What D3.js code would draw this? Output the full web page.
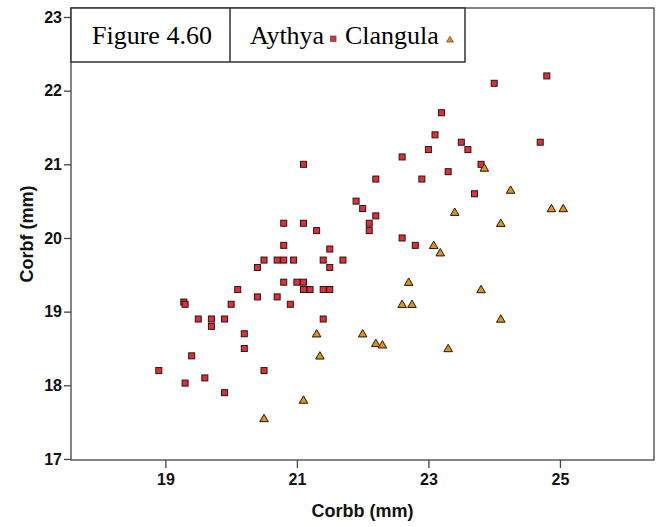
<!DOCTYPE html>
<html>
<head>
<meta charset="utf-8">
<script src="https://cdn.jsdelivr.net/npm/d3@7"></script>
<style>
  html, body { margin: 0; padding: 0; background: #fff; }
  svg { display: block; }
</style>
</head>
<body>
<svg id="chart" width="662" height="527"></svg>
<script>
// ---- data ----
const aythyaCorbb = [21.1, 20.8, 21.1, 21.3, 20.8, 21.5, 20.5, 20.7, 20.8, 20.95, 21.4, 21.7, 20.4, 21.5,
  20.8, 21.0, 21.1, 21.1, 21.2, 21.4, 21.5, 20.1, 20.4, 20.7, 19.28, 19.3, 20.0, 20.9, 19.5, 19.7, 19.9,
  19.7, 21.4, 20.2, 20.2, 19.4, 18.9, 20.5, 19.3, 19.6, 19.9,
  24.0, 24.8, 23.2, 23.1, 23.5, 23.6, 23.0, 24.7, 22.6, 23.8, 23.3, 22.2, 22.9, 23.7, 21.9, 22.0, 22.2,
  22.1, 22.1, 22.6, 22.8];
const aythyaCorbf = [21.0, 20.2, 20.2, 20.1, 19.9, 19.85, 19.7, 19.7, 19.7, 19.7, 19.7, 19.7, 19.6, 19.6,
  19.4, 19.4, 19.4, 19.3, 19.3, 19.3, 19.3, 19.3, 19.2, 19.2, 19.13, 19.1, 19.1, 19.1, 18.9, 18.9, 18.9,
  18.8, 18.9, 18.7, 18.5, 18.4, 18.2, 18.2, 18.03, 18.1, 17.9,
  22.1, 22.2, 21.7, 21.4, 21.3, 21.2, 21.2, 21.3, 21.1, 21.0, 20.9, 20.8, 20.8, 20.6, 20.5, 20.4, 20.3,
  20.2, 20.1, 20.0, 19.9];
const clangulaCorbb = [21.3, 21.35, 21.1, 20.5, 23.85, 24.25, 23.4, 24.87, 25.05, 24.1, 23.8, 24.1,
  23.08, 23.18, 22.7, 22.6, 22.75, 22.0, 22.2, 22.3, 23.3];
const clangulaCorbf = [18.7, 18.4, 17.8, 17.55, 20.95, 20.65, 20.35, 20.4, 20.4, 20.2, 19.3, 18.9,
  19.9, 19.8, 19.4, 19.1, 19.1, 18.7, 18.57, 18.55, 18.5];
const xTicks = [19, 21, 23, 25];
const yTicks = [17, 18, 19, 20, 21, 22, 23];
const seriesNames = ["Aythya", "Clangula"];
const figureLabel = "Figure 4.60";
const xTitle = "Corbb (mm)";
const yTitle = "Corbf (mm)";

// ---- layout ----
const frame = { left: 71, right: 654, top: 8, bottom: 460 };
const svg = d3.select("#chart");
const x = d3.scaleLinear().domain([17.565, 26.43]).range([frame.left, frame.right]);
const y = d3.scaleLinear().domain([16.986, 23.122]).range([frame.bottom, frame.top]);

const redFill = "#ec2a33", orangeFill = "#e8900f", markStroke = "#1a1a1a";
const sansBold = "Arial, 'Liberation Sans', Helvetica, sans-serif";
const serif = "'Times New Roman', 'Liberation Serif', serif";

// frame
svg.append("rect")
  .attr("x", frame.left).attr("y", frame.top)
  .attr("width", frame.right - frame.left).attr("height", frame.bottom - frame.top)
  .attr("fill", "none").attr("stroke", "#444").attr("stroke-width", 1.3);

// axes
const xAxis = svg.append("g")
  .attr("transform", `translate(0,${frame.bottom})`)
  .call(d3.axisBottom(x).tickValues(xTicks).tickSize(8).tickPadding(6).tickFormat(d3.format("d")));
const yAxis = svg.append("g")
  .attr("transform", `translate(${frame.left},0)`)
  .call(d3.axisLeft(y).tickValues(yTicks).tickSize(7).tickPadding(2).tickFormat(d3.format("d")));
[xAxis, yAxis].forEach(g => {
  g.select(".domain").remove();
  g.selectAll(".tick line").attr("stroke", "#444").attr("stroke-width", 1.3);
  g.selectAll(".tick text").attr("fill", "#111").attr("font-family", sansBold)
    .attr("font-weight", "bold").attr("font-size", "16px");
});

// axis titles
svg.append("text")
  .attr("x", (frame.left + frame.right) / 2).attr("y", 517)
  .attr("text-anchor", "middle").attr("font-family", sansBold).attr("font-weight", "bold")
  .attr("font-size", "18px").attr("fill", "#111").text(xTitle);
svg.append("text")
  .attr("transform", `translate(33,${(frame.top + frame.bottom) / 2}) rotate(-90)`)
  .attr("text-anchor", "middle").attr("font-family", sansBold).attr("font-weight", "bold")
  .attr("font-size", "18px").attr("fill", "#111").text(yTitle);

// markers
const sq = 6;
const triPath = "M0,-4.2 L4.3,3.2 L-4.3,3.2 Z";
svg.append("g").selectAll("rect")
  .data(d3.zip(aythyaCorbb, aythyaCorbf))
  .join("rect")
  .attr("x", d => x(d[0]) - sq / 2).attr("y", d => y(d[1]) - sq / 2)
  .attr("width", sq).attr("height", sq)
  .attr("fill", redFill).attr("stroke", markStroke).attr("stroke-width", 1);
svg.append("g").selectAll("path")
  .data(d3.zip(clangulaCorbb, clangulaCorbf))
  .join("path")
  .attr("transform", d => `translate(${x(d[0])},${y(d[1])})`)
  .attr("d", triPath)
  .attr("fill", orangeFill).attr("stroke", markStroke).attr("stroke-width", 1);

// legend box
const lg = svg.append("g");
lg.append("rect").attr("x", 71).attr("y", 8).attr("width", 394).attr("height", 54)
  .attr("fill", "#fff").attr("stroke", "#333").attr("stroke-width", 1.5);
lg.append("line").attr("x1", 230).attr("x2", 230).attr("y1", 8).attr("y2", 62)
  .attr("stroke", "#333").attr("stroke-width", 1.5);
lg.append("text").attr("x", 92).attr("y", 43.5).attr("font-family", serif)
  .attr("font-size", "26px").attr("fill", "#000").text(figureLabel);
lg.append("text").attr("x", 250).attr("y", 43.5).attr("font-family", serif)
  .attr("font-size", "26px").attr("fill", "#000").text(seriesNames[0]);
lg.append("rect").attr("x", 330.5).attr("y", 36).attr("width", 5.5).attr("height", 5.5)
  .attr("fill", redFill).attr("stroke", "#555").attr("stroke-width", 0.8);
lg.append("text").attr("x", 345).attr("y", 43.5).attr("font-family", serif)
  .attr("font-size", "26px").attr("fill", "#000").text(seriesNames[1]);
lg.append("path").attr("transform", "translate(450,39.5) scale(0.8)").attr("d", triPath)
  .attr("fill", orangeFill).attr("stroke", "#555").attr("stroke-width", 1);
</script>
</body>
</html>
